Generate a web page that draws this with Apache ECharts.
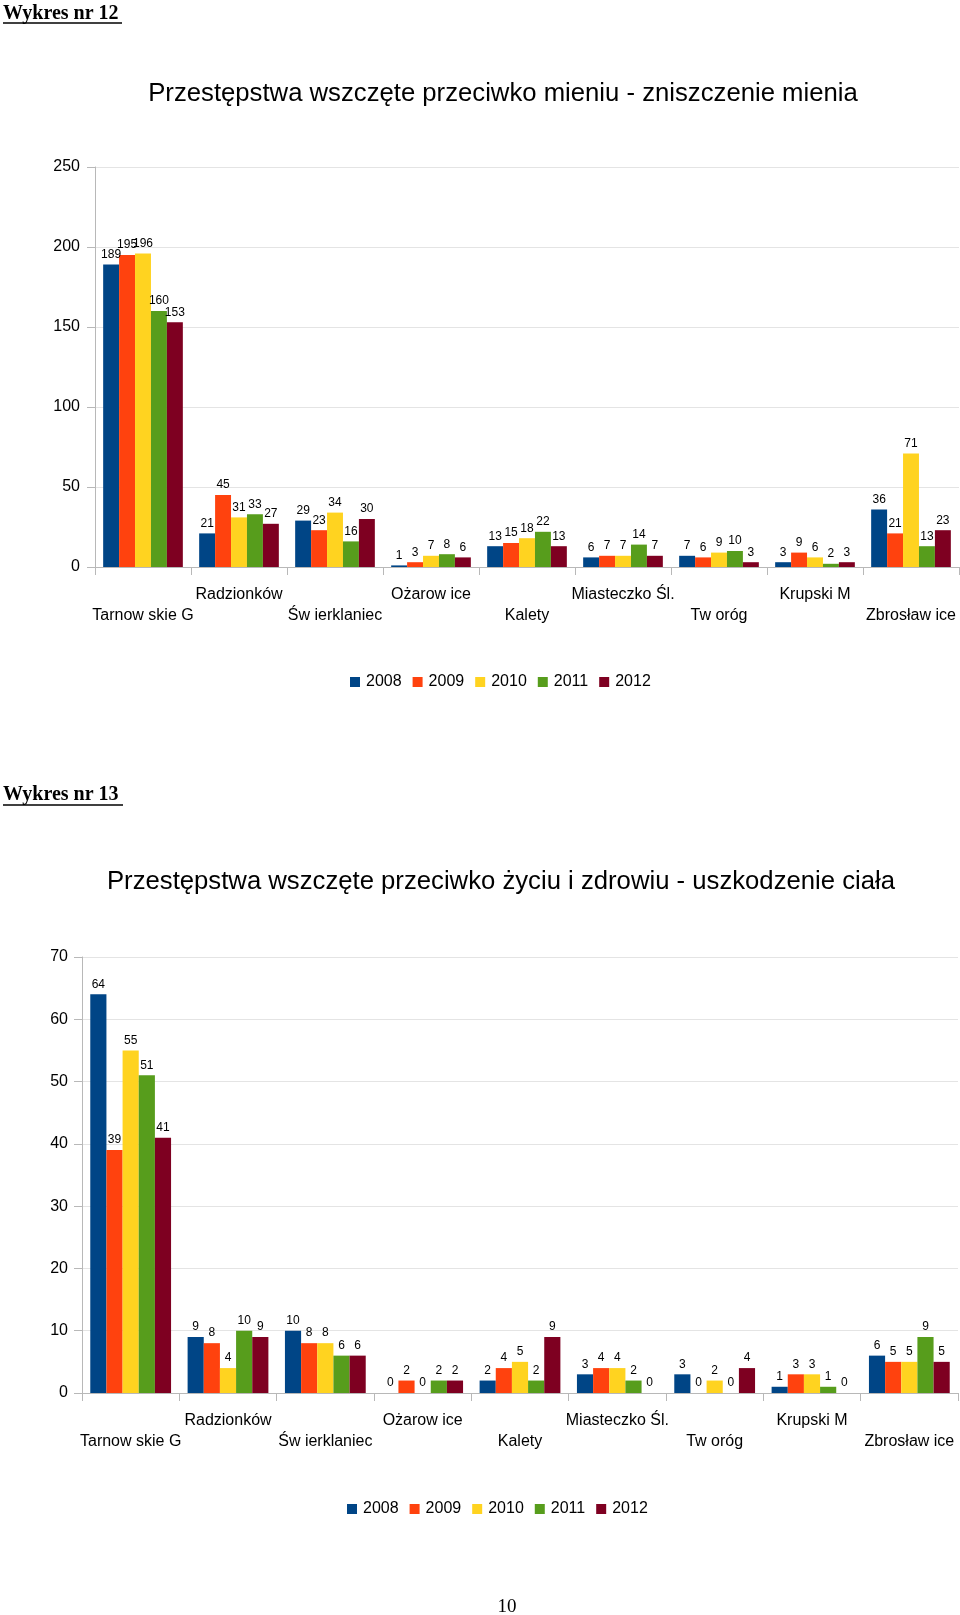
<!DOCTYPE html>
<html>
<head>
<meta charset="utf-8">
<script src="https://cdn.jsdelivr.net/npm/echarts@6/dist/echarts.min.js"></script>
<style>
html,body{margin:0;padding:0;background:#fff;}
#c{width:960px;height:1615px;}
</style>
</head>
<body>
<div id="c"></div>
<script>
// ---- data ----
const categories = ['Tarnow skie G', 'Radzionków', 'Św ierklaniec', 'Ożarow ice', 'Kalety', 'Miasteczko Śl.', 'Tw oróg', 'Krupski M', 'Zbrosław ice'];
const years = ['2008', '2009', '2010', '2011', '2012'];
const yearColors = ['#004586', '#ff420e', '#ffd320', '#579d1c', '#7e0021'];

// Wykres nr 12 - zniszczenie mienia
const mienie2008 = [189, 21, 29, 1, 13, 6, 7, 3, 36];
const mienie2009 = [195, 45, 23, 3, 15, 7, 6, 9, 21];
const mienie2010 = [196, 31, 34, 7, 18, 7, 9, 6, 71];
const mienie2011 = [160, 33, 16, 8, 22, 14, 10, 2, 13];
const mienie2012 = [153, 27, 30, 6, 13, 7, 3, 3, 23];
const mienieTicks = [0, 50, 100, 150, 200, 250];

// Wykres nr 13 - uszkodzenie ciała
const cialo2008 = [64, 9, 10, 0, 2, 3, 3, 1, 6];
const cialo2009 = [39, 8, 8, 2, 4, 4, 0, 3, 5];
const cialo2010 = [55, 4, 8, 0, 5, 4, 2, 3, 5];
const cialo2011 = [51, 10, 6, 2, 2, 2, 0, 1, 9];
const cialo2012 = [41, 9, 6, 2, 9, 0, 4, 0, 5];
const cialoTicks = [0, 10, 20, 30, 40, 50, 60, 70];

const heading1 = 'Wykres nr 12';
const heading2 = 'Wykres nr 13';
const title1 = 'Przestępstwa wszczęte przeciwko mieniu - zniszczenie mienia';
const title2 = 'Przestępstwa wszczęte przeciwko życiu i zdrowiu - uszkodzenie ciała';
const pageNumber = '10';

// ---- build ----
const SANS = '"Liberation Sans", Arial, sans-serif';
const SERIF = '"Liberation Serif", "Times New Roman", serif';
const AXIS_GRAY = '#b8b8b8';

function xAxisFor(gi) {
  return {
    type: 'category', gridIndex: gi, data: categories,
    axisLine: { show: true, lineStyle: { color: AXIS_GRAY, width: 1 } },
    axisTick: { show: true, length: 8, alignWithLabel: false, lineStyle: { color: AXIS_GRAY } },
    axisLabel: {
      interval: 0, fontSize: 16, fontFamily: SANS, color: '#000',
      margin: 17, lineHeight: 21,
      formatter: function (v, i) { return i % 2 === 0 ? '\n' + v : v; }
    },
    splitLine: { show: false }
  };
}
function yAxisFor(gi, ticks, margin) {
  return {
    type: 'value', gridIndex: gi,
    min: ticks[0], max: ticks[ticks.length - 1], interval: ticks[1] - ticks[0],
    axisLine: { show: true, lineStyle: { color: AXIS_GRAY, width: 1 } },
    axisTick: { show: true, length: 8, lineStyle: { color: AXIS_GRAY } },
    axisLabel: { fontSize: 16, fontFamily: SANS, color: '#000', margin: margin },
    splitLine: { show: true, lineStyle: { color: '#e4e4e4', width: 1 } }
  };
}

const set1 = [mienie2008, mienie2009, mienie2010, mienie2011, mienie2012];
const set2 = [cialo2008, cialo2009, cialo2010, cialo2011, cialo2012];
const series = [];
[set1, set2].forEach(function (set, gi) {
  set.forEach(function (vals, k) {
    series.push({
      type: 'bar', name: years[k], xAxisIndex: gi, yAxisIndex: gi,
      data: vals, barGap: '0%', barCategoryGap: '17%',
      itemStyle: { color: yearColors[k] },
      label: { show: true, position: 'top', distance: 4, fontSize: 12, fontFamily: SANS, color: '#000' }
    });
  });
});

function legendFor(left, top) {
  return {
    data: years, left: left, top: top, orient: 'horizontal',
    icon: 'rect', itemWidth: 10, itemHeight: 10, itemGap: 11,
    textStyle: { fontSize: 16, fontFamily: SANS, color: '#000', padding: [0, 0, 0, 1] },
    selectedMode: false
  };
}

function heading(text, x, y) {
  return { type: 'text', x: x, y: y, style: { text: text, fontSize: 20, fontWeight: 'bold', fontFamily: SERIF, fill: '#000', align: 'left', verticalAlign: 'middle' } };
}
function underline(x1, x2, y) {
  return { type: 'line', shape: { x1: x1, y1: y, x2: x2, y2: y }, style: { stroke: '#000', lineWidth: 1.5 } };
}
function titleText(text, x, y) {
  return { type: 'text', x: x, y: y, style: { text: text, fontSize: 25.7, fontFamily: SANS, fill: '#000', align: 'center', verticalAlign: 'middle' } };
}

const chart = echarts.init(document.getElementById('c'), null, { renderer: 'canvas' });
chart.setOption({
  animation: false,
  backgroundColor: '#fff',
  grid: [
    { left: 95, top: 167, width: 864, height: 400, containLabel: false },
    { left: 82, top: 957, width: 876, height: 436, containLabel: false }
  ],
  xAxis: [xAxisFor(0), xAxisFor(1)],
  yAxis: [yAxisFor(0, mienieTicks, 15), yAxisFor(1, cialoTicks, 14)],
  legend: [legendFor(345, 669), legendFor(342, 1496)],
  series: series,
  graphic: [
    heading(heading1, 3, 14),
    underline(3, 122, 23),
    titleText(title1, 503, 94),
    heading(heading2, 3, 795),
    underline(3, 123, 805),
    titleText(title2, 501, 882),
    { type: 'text', x: 507, y: 1607, style: { text: pageNumber, fontSize: 19, fontFamily: SERIF, fill: '#000', align: 'center', verticalAlign: 'middle' } }
  ]
});
</script>
</body>
</html>
